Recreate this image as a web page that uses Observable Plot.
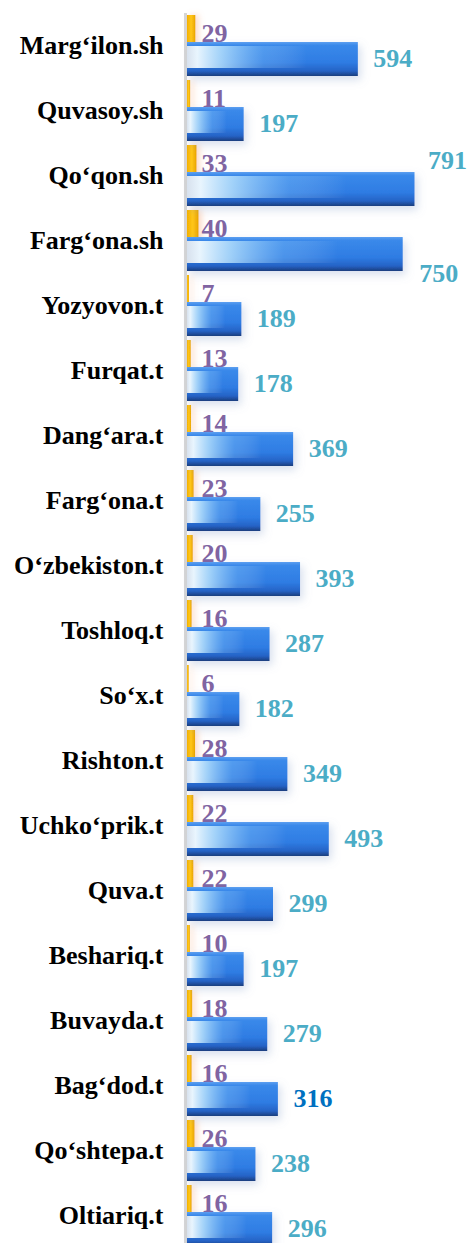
<!DOCTYPE html>
<html>
<head>
<meta charset="utf-8">
<script src="https://cdn.jsdelivr.net/npm/d3@7"></script>
<script src="https://cdn.jsdelivr.net/npm/@observablehq/plot@0.6"></script>
<style>
  html, body { margin: 0; padding: 0; background: #fff; }
  #chart svg { display: block; }
</style>
</head>
<body>
<div id="chart"></div>
<script>
const categories = ["Marg‘ilon.sh","Quvasoy.sh","Qo‘qon.sh","Farg‘ona.sh","Yozyovon.t","Furqat.t","Dang‘ara.t","Farg‘ona.t","O‘zbekiston.t","Toshloq.t","So‘x.t","Rishton.t","Uchko‘prik.t","Quva.t","Beshariq.t","Buvayda.t","Bag‘dod.t","Qo‘shtepa.t","Oltiariq.t"];
const smallValues = [29,11,33,40,7,13,14,23,20,16,6,28,22,22,10,18,16,26,16];
const largeValues = [594,197,791,750,189,178,369,255,393,287,182,349,493,299,197,279,316,238,296];

const rows = categories.map((c, i) => ({cat: c, small: smallValues[i], large: largeValues[i]}));
const above = new Set(["Qo‘qon.sh"]);
const below = new Set(["Farg‘ona.sh"]);
const normal = rows.filter(d => !above.has(d.cat) && !below.has(d.cat));

const font = "Liberation Serif";
const teal = "#4BACC6", purple = "#8064A2";
const txt = {fontSize: 26, fontWeight: "bold", fontFamily: font};

const svg = Plot.plot({
  width: 468,
  height: 1243,
  marginLeft: 187,
  marginRight: 0,
  marginTop: 13,
  marginBottom: 0,
  style: {fontFamily: font, background: "#fff", overflow: "visible"},
  x: {domain: [0, 977], axis: null},
  y: {domain: categories, range: [13, 1248], padding: 0, axis: null},
  marks: [
    Plot.ruleX([0], {stroke: "#d6d6d6", strokeWidth: 3, dx: -2}),
    Plot.barX(rows, {x: "small", y: "cat", insetTop: 2, insetBottom: 29, fill: "url(#orangeGrad)", className: "orange"}),
    Plot.text(rows, {x: 0, y: "cat", text: d => String(d.small), dx: 14, dy: -12, textAnchor: "start", fill: purple, ...txt}),
    Plot.barX(rows, {x: "large", y: "cat", insetTop: 29, insetBottom: 2, fill: "url(#blueBase)", className: "bluebar"}),
    Plot.barX(rows, {x: "large", y: "cat", insetTop: 33, insetBottom: 10, fill: "url(#blueHi)"}),
    Plot.tickX(rows, {x: "large", y: "cat", insetTop: 30, insetBottom: 3, stroke: "url(#bevel)", strokeWidth: 6, dx: -3}),
    Plot.text(normal, {x: "large", y: "cat", text: d => String(d.large), dx: 15, dy: 13, textAnchor: "start",
      fill: d => d.cat === "Bag‘dod.t" ? "#0070C0" : teal, ...txt}),
    Plot.text(rows.filter(d => above.has(d.cat)), {x: "large", y: "cat", text: d => String(d.large), dx: 13, dy: -15, textAnchor: "start", fill: teal, ...txt}),
    Plot.text(rows.filter(d => below.has(d.cat)), {x: "large", y: "cat", text: d => String(d.large), dx: 16, dy: 33, textAnchor: "start", fill: teal, ...txt}),
    Plot.text(categories, {x: 0, y: d => d, text: d => d, dx: -24, textAnchor: "end", fill: "#000", ...txt})
  ]
});

const defs = d3.select(svg).insert("defs", ":first-child");
function grad(id, horizontal, stops) {
  const g = defs.append("linearGradient").attr("id", id)
    .attr("x1", 0).attr("y1", 0).attr("x2", horizontal ? 1 : 0).attr("y2", horizontal ? 0 : 1);
  stops.forEach(([o, c, a]) => g.append("stop").attr("offset", o).attr("stop-color", c).attr("stop-opacity", a == null ? 1 : a));
}
grad("blueBase", false, [[0, "#5d9ff0"], [0.1, "#3a89ea"], [0.6, "#2e7ce3"], [0.85, "#2663c6"], [1, "#1a3e7e"]]);
grad("blueHi", true, [[0, "#e0e6ee", 0.95], [0.06, "#f2fbff", 0.95], [0.2, "#c6ecff", 0.75], [0.45, "#9fd6ff", 0.25], [0.7, "#ffffff", 0]]);
grad("bevel", false, [[0, "#2b5fa8"], [0.5, "#1b3f7a"], [1, "#142e5c"]]);
grad("orangeGrad", true, [[0, "#f4b000"], [0.5, "#ffc61a"], [1, "#e9a400"]]);

const fb = defs.append("filter").attr("id", "blueShadow").attr("x", "-10%").attr("y", "-30%").attr("width", "130%").attr("height", "170%");
fb.append("feDropShadow").attr("dx", 3).attr("dy", 4).attr("stdDeviation", 4).attr("flood-color", "#7f98c8").attr("flood-opacity", 0.3);
const fo = defs.append("filter").attr("id", "orangeGlow").attr("x", "-50%").attr("y", "-20%").attr("width", "400%").attr("height", "140%");
fo.append("feDropShadow").attr("dx", 3).attr("dy", 0).attr("stdDeviation", 3).attr("flood-color", "#f5a070").attr("flood-opacity", 0.4);

d3.select(svg).selectAll("g.bluebar").attr("filter", "url(#blueShadow)");
d3.select(svg).selectAll("g.orange").attr("filter", "url(#orangeGlow)");

document.getElementById("chart").appendChild(svg);
</script>
</body>
</html>
